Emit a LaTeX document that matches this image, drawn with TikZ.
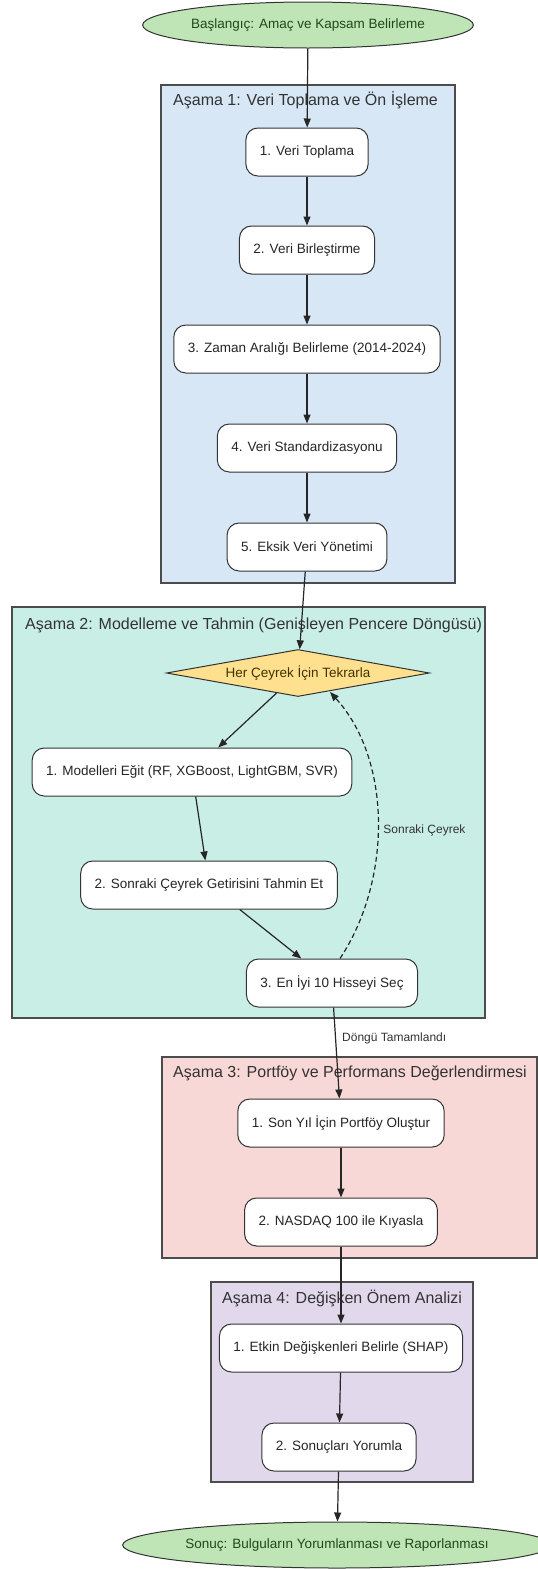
\documentclass[tikz,border=0pt]{standalone}
\usepackage{fontspec}
\setmainfont{Liberation Sans}
\usetikzlibrary{shapes.geometric,arrows.meta}

\definecolor{phaseone}{HTML}{D7E7F6}
\definecolor{phasetwo}{HTML}{C9EEE6}
\definecolor{phasethree}{HTML}{F8D8D6}
\definecolor{phasefour}{HTML}{E2D8EC}
\definecolor{termfill}{HTML}{BFE4B5}
\definecolor{termtext}{HTML}{1F4A14}
\definecolor{loopfill}{HTML}{FFE08E}
\definecolor{looptext}{HTML}{3F3300}

\begin{document}
\begin{tikzpicture}[x=1pt,y=-1pt,
  every node/.style={font=\fontsize{13.5}{16}\selectfont},
  phase/.style={draw=black!70, line width=1.2pt},
  phasetitle/.style={anchor=west, inner sep=0pt, text=black!80, font=\fontsize{16}{19}\selectfont},
  taskbox/.style={draw=black!80, fill=white, rounded corners=12pt, line width=1pt,
    minimum height=48pt, inner xsep=14pt, text=black!85},
  terminal/.style={ellipse, draw=black!80, fill=termfill, line width=1pt, inner sep=0pt, text=termtext},
  decision/.style={diamond, aspect=5.6, draw=black!80, fill=loopfill, line width=1pt, inner sep=0pt,
    minimum width=263pt, minimum height=47pt, text=looptext},
  flow/.style={-{Triangle[length=9pt,width=7pt]}, line width=1.2pt, black!85},
  loopback/.style={flow, dash pattern=on 5pt off 3pt},
  edgelabel/.style={font=\fontsize{12}{14}\selectfont, text=black!80, inner sep=1pt}]
\useasboundingbox (0,0) rectangle (538,1569);

% phases
\draw[phase, fill=phaseone] (161,85) rectangle (455,583);
\node[phasetitle] (t1) at (173,100) {Aşama 1: Veri Toplama ve Ön İşleme};
\draw[phase, fill=phasetwo] (12,607) rectangle (485,1018);
\node[phasetitle] (t2) at (25,625) {Aşama 2: Modelleme ve Tahmin (Genişleyen Pencere Döngüsü)};
\draw[phase, fill=phasethree] (162,1057) rectangle (537,1258);
\node[phasetitle] (t3) at (173,1073) {Aşama 3: Portföy ve Performans Değerlendirmesi};
\draw[phase, fill=phasefour] (211,1282) rectangle (473,1482);
\node[phasetitle] (t4) at (222,1298) {Aşama 4: Değişken Önem Analizi};

% nodes
\node[terminal, minimum width=317pt, minimum height=46pt] (start) at (308,25) {Başlangıç: Amaç ve Kapsam Belirleme};

\node[taskbox] (b1) at (307,152) {1. Veri Toplama};
\node[taskbox] (b2) at (307,250) {2. Veri Birleştirme};
\node[taskbox] (b3) at (307,349) {3. Zaman Aralığı Belirleme (2014-2024)};
\node[taskbox] (b4) at (307,448) {4. Veri Standardizasyonu};
\node[taskbox] (b5) at (307,547) {5. Eksik Veri Yönetimi};

\node[decision] (rpt) at (298,673) {Her Çeyrek İçin Tekrarla};
\node[taskbox] (m1) at (192,772) {1. Modelleri Eğit (RF, XGBoost, LightGBM, SVR)};
\node[taskbox] (m2) at (209,885) {2. Sonraki Çeyrek Getirisini Tahmin Et};
\node[taskbox] (m3) at (332,983) {3. En İyi 10 Hisseyi Seç};

\node[taskbox] (p1) at (341,1123) {1. Son Yıl İçin Portföy Oluştur};
\node[taskbox] (p2) at (341,1222) {2. NASDAQ 100 ile Kıyasla};

\node[taskbox] (v1) at (341,1348) {1. Etkin Değişkenleri Belirle (SHAP)};
\node[taskbox] (v2) at (339,1447) {2. Sonuçları Yorumla};

\node[terminal, minimum width=400pt, minimum height=46pt] (finish) at (337,1545) {Sonuç: Bulguların Yorumlanması ve Raporlanması};

% edges
\draw[flow] (start) -- (b1);
\draw[flow] (b1) -- (b2);
\draw[flow] (b2) -- (b3);
\draw[flow] (b3) -- (b4);
\draw[flow] (b4) -- (b5);
\draw[flow] (b5) -- (rpt);
\draw[flow] (rpt) -- (m1);
\draw[flow] (m1) -- (m2);
\draw[flow] (m2) -- (m3);
\draw[loopback] ([xshift=8pt]m3.north) .. controls (392,880) and (392,760) .. ([xshift=32pt,yshift=5pt]rpt.south)
  node[edgelabel, pos=0.47, anchor=west, xshift=4pt] {Sonraki Çeyrek};
\draw[flow] (m3) -- node[edgelabel, pos=0.34, anchor=west, xshift=5pt] {Döngü Tamamlandı} (p1);
\draw[flow] (p1) -- (p2);
\draw[flow] (p2) -- (v1);
\draw[flow] (v1) -- (v2);
\draw[flow] (v2) -- (finish);
\end{tikzpicture}
\end{document}
